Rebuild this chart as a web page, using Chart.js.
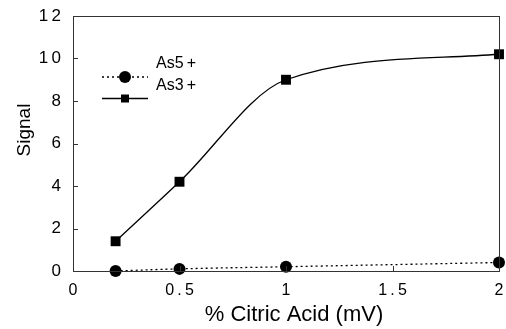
<!DOCTYPE html>
<html lang="en">
<head>
  <meta charset="UTF-8">
  <title>Signal vs Citric Acid</title>
  <script src="https://cdn.jsdelivr.net/npm/chart.js"></script>
  <style>
    html, body {
      margin: 0;
      padding: 0;
      background: #fff;
    }
    #wrap {
      width: 506px;
      height: 329px;
    }
  </style>
</head>
<body>
  <div id="wrap"><canvas id="signalChart" width="506" height="329"></canvas></div>

  <script>
    const citric = [0.2, 0.5, 1, 2];
    const as5 = [0, 0.1, 0.2, 0.4];
    const as3 = [1.4, 4.2, 9.0, 10.2];
    const xTicks = [0, 0.5, 1, 1.5, 2];
    const yTicks = [0, 2, 4, 6, 8, 10, 12];

    const FONT = '"Liberation Sans", Arial, sans-serif';

    function points(xs, ys) {
      return xs.map((x, i) => ({ x: x, y: ys[i] }));
    }

    // spread the characters of a tick label a little
    function spaced(v) {
      return String(v).split('').join('\u2009');
    }

    // frame around the plot, short inward ticks, axis titles and the legend block
    const framePlugin = {
      id: 'frame',
      afterDraw(chart) {
        const ctx = chart.ctx;
        const a = chart.chartArea;
        const xs = chart.scales.x;
        const ys = chart.scales.y;
        ctx.save();
        ctx.strokeStyle = '#333';
        ctx.lineWidth = 1;
        ctx.strokeRect(a.left + 0.5, a.top + 0.5, a.right - a.left, a.bottom - a.top);
        ctx.beginPath();
        yTicks.forEach(v => {
          const py = Math.round(ys.getPixelForValue(v)) + 0.5;
          ctx.moveTo(a.left, py);
          ctx.lineTo(a.left + 5, py);
        });
        xTicks.forEach(v => {
          const px = Math.round(xs.getPixelForValue(v)) + 0.5;
          ctx.moveTo(px, a.bottom);
          ctx.lineTo(px, a.bottom - 5);
        });
        ctx.stroke();

        // axis titles
        ctx.fillStyle = '#000';
        ctx.textAlign = 'center';
        ctx.textBaseline = 'middle';
        ctx.font = '22px ' + FONT;
        ctx.fillText('% Citric Acid (mV)', 294, 315);
        ctx.save();
        ctx.translate(25, 130);
        ctx.rotate(-Math.PI / 2);
        ctx.font = '19px ' + FONT;
        ctx.fillText('Signal', 0, 0);
        ctx.restore();

        // legend
        const lx = 102, lw = 46;
        ctx.strokeStyle = '#000';
        ctx.lineWidth = 1.3;
        ctx.setLineDash([2, 3]);
        ctx.beginPath();
        ctx.moveTo(lx, 77);
        ctx.lineTo(lx + lw, 77);
        ctx.stroke();
        ctx.setLineDash([]);
        ctx.beginPath();
        ctx.moveTo(lx, 98.5);
        ctx.lineTo(lx + lw, 98.5);
        ctx.stroke();
        ctx.beginPath();
        ctx.arc(lx + lw / 2, 77, 6, 0, Math.PI * 2);
        ctx.fill();
        ctx.fillRect(lx + lw / 2 - 4, 98.5 - 4, 8, 8);
        ctx.font = '16px ' + FONT;
        ctx.textAlign = 'left';
        ctx.fillText('As5\u2009+', 156, 64);
        ctx.fillText('As3\u2009+', 156, 86);
        ctx.restore();
      }
    };

    const ctx = document.getElementById('signalChart').getContext('2d');
    new Chart(ctx, {
      type: 'scatter',
      data: {
        datasets: [
          {
            label: 'As5+',
            data: points(citric, as5),
            showLine: true,
            borderColor: '#000',
            borderWidth: 1.3,
            borderDash: [2, 3],
            tension: 0.4,
            pointStyle: 'circle',
            pointRadius: 6,
            pointBackgroundColor: '#000',
            pointBorderWidth: 0
          },
          {
            label: 'As3+',
            data: points(citric, as3),
            showLine: true,
            borderColor: '#000',
            borderWidth: 1.3,
            cubicInterpolationMode: 'monotone',
            pointStyle: 'rect',
            pointRadius: 7,
            pointBackgroundColor: '#000',
            pointBorderWidth: 0
          }
        ]
      },
      options: {
        responsive: false,
        animation: false,
        clip: false,
        layout: { padding: { top: 16, right: 7, left: 0, bottom: 0 } },
        plugins: {
          legend: { display: false },
          tooltip: { enabled: false }
        },
        scales: {
          x: {
            type: 'linear',
            min: 0,
            max: 2,
            afterFit(scale) {
              scale.height = 58;
              scale.paddingLeft = 0;
              scale.paddingRight = 0;
            },
            afterBuildTicks(scale) { scale.ticks = xTicks.map(v => ({ value: v })); },
            grid: { display: false, drawTicks: false },
            border: { display: false },
            ticks: {
              color: '#000',
              padding: 10,
              font: { family: FONT, size: 16 },
              callback: v => spaced(v)
            }
          },
          y: {
            min: 0,
            max: 12,
            afterFit(scale) {
              scale.width = 73;
              scale.paddingTop = 0;
              scale.paddingBottom = 0;
            },
            afterBuildTicks(scale) { scale.ticks = yTicks.map(v => ({ value: v })); },
            grid: { display: false, drawTicks: false },
            border: { display: false },
            ticks: {
              color: '#000',
              padding: 12,
              font: { family: FONT, size: 17 },
              callback: v => spaced(v)
            }
          }
        }
      },
      plugins: [framePlugin]
    });
  </script>
</body>
</html>
